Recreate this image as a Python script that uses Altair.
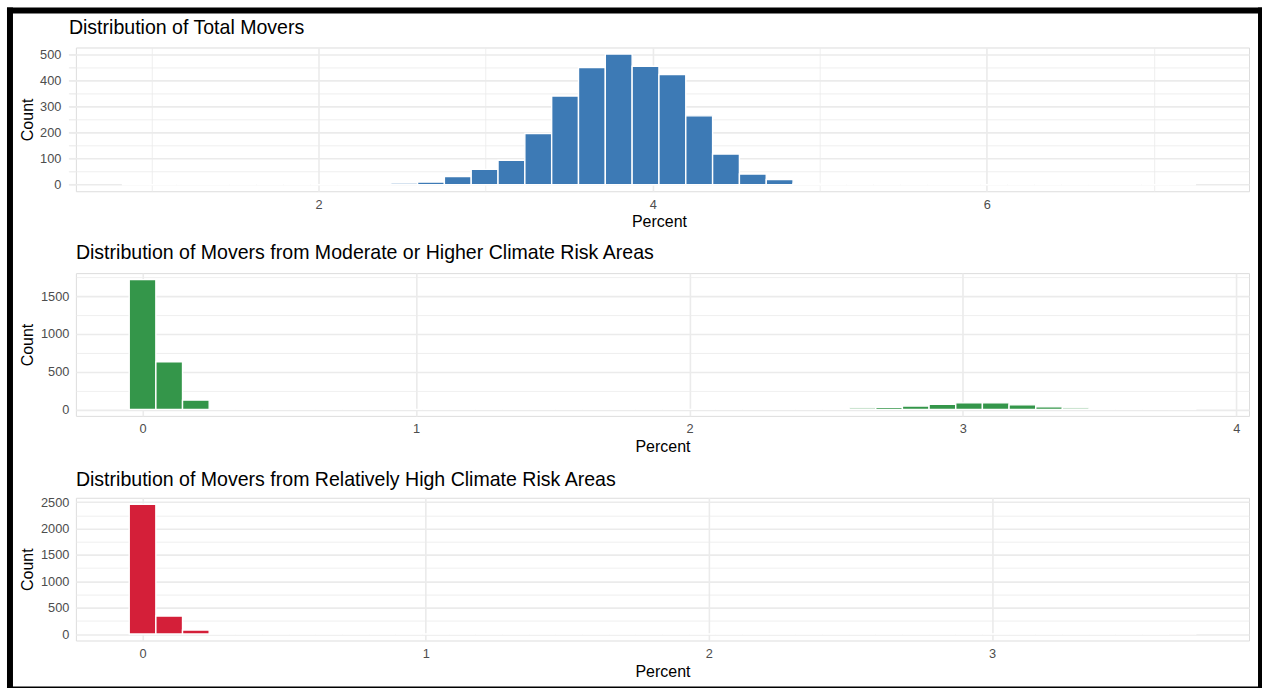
import altair as alt
import pandas as pd

# ---------------- data ----------------
titles = [
    "Distribution of Total Movers",
    "Distribution of Movers from Moderate or Higher Climate Risk Areas",
    "Distribution of Movers from Relatively High Climate Risk Areas",
]

# histogram bins: first bin left edge, bin width, counts (40 bins each)
total_bin_start = 0.826
total_bin_width = 0.16057
total_counts = [1, 0, 0, 0, 0, 0, 0, 0, 0, 0,
                6, 10, 31, 59, 94, 197, 341, 451, 503, 456,
                424, 265, 118, 41, 20, 5, 0, 0, 0, 0,
                0, 0, 0, 0, 0, 0, 0, 0, 0, 1]

moderate_bin_start = -0.04875
moderate_bin_width = 0.0975
moderate_counts = [1721, 630, 123, 0, 0, 0, 0, 0, 0, 0,
                   0, 0, 0, 0, 0, 0, 0, 0, 0, 0,
                   0, 0, 0, 0, 0, 0, 0, 20, 28, 46,
                   68, 86, 86, 60, 33, 20, 0, 0, 0, 1]

high_bin_start = -0.04708
high_bin_width = 0.09416
high_counts = [2462, 341, 76, 0, 0, 0, 0, 0, 0, 0,
               0, 0, 0, 0, 0, 0, 0, 0, 0, 0,
               0, 0, 0, 0, 0, 0, 0, 0, 0, 0,
               0, 0, 0, 0, 0, 0, 0, 0, 0, 1]

# axis break values (major + minor); labels only on majors
total_x_ticks = [1, 2, 3, 4, 5, 6, 7]
total_y_ticks = [0, 50, 100, 150, 200, 250, 300, 350, 400, 450, 500]
moderate_x_ticks = [0, 0.5, 1, 1.5, 2, 2.5, 3, 3.5, 4]
moderate_y_ticks = [0, 250, 500, 750, 1000, 1250, 1500, 1750]
high_x_ticks = [0, 0.5, 1, 1.5, 2, 2.5, 3, 3.5]
high_y_ticks = [0, 250, 500, 750, 1000, 1250, 1500, 1750, 2000, 2250, 2500]

colors = ["#3D7AB5", "#34964A", "#D41F39"]

# ---------------- styling ----------------
FONT = "Liberation Sans"
GRID = "#EBEBEB"
LABEL = "#4D4D4D"


def make_df(start, width, counts):
    return pd.DataFrame({
        "start": [start + i * width for i in range(len(counts))],
        "end": [start + (i + 1) * width for i in range(len(counts))],
        "count": counts,
    })


def grid_width(step):
    return {"condition": {"test": f"datum.value % {step} === 0", "value": 1.6}, "value": 0.8}


def label_expr(step):
    return f"datum.value % {step} === 0 ? datum.label : ''"


common_axis = dict(
    ticks=False, domain=False, labelColor=LABEL, labelFontSize=12.8, labelFont=FONT,
    titleFont=FONT, titleFontSize=16, titleFontWeight="normal", titleColor="black",
    gridColor=GRID, labelOverlap=False, labelFlush=False, format="d",
)


def panel(df, title, color, x_ticks, x_step, y_ticks, y_step, width, height,
          x_range=None, y_label_pad=7, title_offset=12, title_dx=0, extra=(), grid_stub=0):
    lo = float(df["start"].min())
    hi = float(df["end"].max())
    span = hi - lo
    x_dom = [lo - 0.05 * span, hi + 0.05 * span]
    ymax = float(df["count"].max())
    y_dom = [-0.05 * ymax, 1.05 * ymax]
    xs = dict(domain=x_dom, nice=False, zero=False)
    if x_range is not None:
        xs["range"] = x_range
    x_scale = alt.Scale(**xs)
    y_scale = alt.Scale(domain=y_dom, nice=False, zero=False)
    y_axis = alt.Axis(
        title="Count", values=y_ticks, labelExpr=label_expr(y_step),
        gridWidth=grid_width(y_step), labelPadding=y_label_pad, titleX=-40, **common_axis)
    bars = alt.Chart(df).mark_rect(color=color, stroke="white", strokeWidth=1.4).encode(
        x=alt.X("start:Q", scale=x_scale, axis=alt.Axis(
            title="Percent", values=x_ticks, labelExpr=label_expr(x_step),
            gridWidth=grid_width(x_step), labelPadding=7, titlePadding=3, **common_axis)),
        x2="end:Q",
        y=alt.Y("count:Q", scale=y_scale, axis=y_axis),
        y2=alt.datum(0),
    )
    layers = [bars]
    if grid_stub:
        # horizontal grid continued to the left edge of the panel's x range
        stub_df = pd.DataFrame({"count": y_ticks,
                                "w": [1.6 if v % y_step == 0 else 0.8 for v in y_ticks]})
        stub = alt.Chart(stub_df).mark_rule(color=GRID).encode(
            y=alt.Y("count:Q", scale=y_scale, axis=y_axis),
            x=alt.value(-grid_stub), x2=alt.value(0),
            strokeWidth=alt.StrokeWidth("w:Q", scale=None, legend=None),
        )
        layers.append(stub)
    layers.extend(extra)
    return alt.layer(*layers).properties(
        width=width, height=height,
        title=alt.TitleParams(text=title, anchor="start", frame="group", font=FONT, fontSize=19.6,
                              fontWeight="normal", color="black", baseline="alphabetic",
                              offset=title_offset, dx=title_dx),
    )


one = alt.Data(values=[{"k": 1}])


def frame_piece(x, x2, y, y2):
    return alt.Chart(one).mark_rect(color="black").encode(
        x=alt.value(x), x2=alt.value(x2), y=alt.value(y), y2=alt.value(y2))


frame = [
    frame_piece(-69, -63, -40, 642),
    frame_piece(1184, 1188, -40, 642),
    frame_piece(-69, 1188, -40, -34),
    frame_piece(-69, 1188, 640, 642),
]

p1 = panel(make_df(total_bin_start, total_bin_width, total_counts), titles[0], colors[0],
           total_x_ticks, 2, total_y_ticks, 100, 1175, 144, x_range=[-7, 1175],
           y_label_pad=15, title_offset=-46, title_dx=-7, extra=frame, grid_stub=7)
p2 = panel(make_df(moderate_bin_start, moderate_bin_width, moderate_counts), titles[1], colors[1],
           moderate_x_ticks, 1, moderate_y_ticks, 500, 1175, 143, title_offset=-7)
p3 = panel(make_df(high_bin_start, high_bin_width, high_counts), titles[2], colors[2],
           high_x_ticks, 1, high_y_ticks, 500, 1175, 143, title_offset=-9)

chart = alt.concat(p1, p2, p3, columns=1, spacing=82, bounds="flush").properties(
    padding={"left": 6, "top": 6, "right": 0, "bottom": 0},
    background="white",
).configure_view(stroke="transparent").configure(font=FONT)

chart.save("out.html", embed_options={"renderer": "svg", "actions": False})
